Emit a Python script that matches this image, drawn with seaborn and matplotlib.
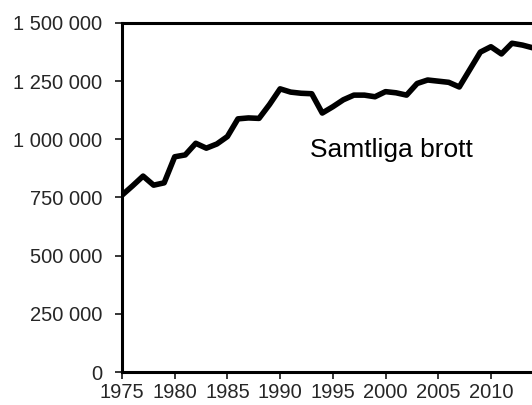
import matplotlib
matplotlib.use("Agg")
import matplotlib.pyplot as plt
import matplotlib.ticker as mticker
import pandas as pd
import seaborn as sns

years = list(range(1975, 2015))
brott = [760000, 800000, 842000, 803000, 813000, 925000, 933000, 983000, 962000, 980000,
         1012000, 1088000, 1092000, 1090000, 1150000, 1217000, 1203000, 1198000, 1196000, 1113000,
         1140000, 1170000, 1190000, 1190000, 1183000, 1205000, 1200000, 1190000, 1240000, 1255000,
         1250000, 1245000, 1225000, 1300000, 1375000, 1398000, 1367000, 1413000, 1405000, 1393000]
x_ticks = [1975, 1980, 1985, 1990, 1995, 2000, 2005, 2010]
y_ticks = [0, 250000, 500000, 750000, 1000000, 1250000, 1500000]
label = "Samtliga brott"

df = pd.DataFrame({"year": years, "brott": brott})

sns.set_style("ticks")
plt.rcParams['font.family'] = ['Liberation Sans', 'DejaVu Sans']

fig = plt.figure(figsize=(5.32, 4.05), dpi=100)
ax = fig.add_axes([122 / 532, 33 / 405, 410 / 532, 349 / 405])

sns.lineplot(data=df, x="year", y="brott", color="black", linewidth=4, ax=ax, clip_on=True)

ax.set_xlim(1975, 1975 + 410 / 10.54)
ax.set_ylim(0, 1500000)
ax.set_xticks(x_ticks)
ax.set_yticks(y_ticks)
ax.yaxis.set_major_formatter(mticker.FuncFormatter(lambda v, p: f"{int(v):,}".replace(",", " ")))
ax.set_xlabel("")
ax.set_ylabel("")

for s in ["left", "top", "bottom"]:
    ax.spines[s].set_linewidth(2.2)
    ax.spines[s].set_color("black")
ax.spines["right"].set_visible(False)

ax.tick_params(axis="both", direction="out", length=5, width=1.1, color="black", labelsize=14.5)
ax.tick_params(axis="y", pad=9)
ax.tick_params(axis="x", pad=3)

ax.text(1992.8, 924000, label, fontsize=19, va="baseline", ha="left", color="black")

fig.savefig("out.png", dpi=100)
